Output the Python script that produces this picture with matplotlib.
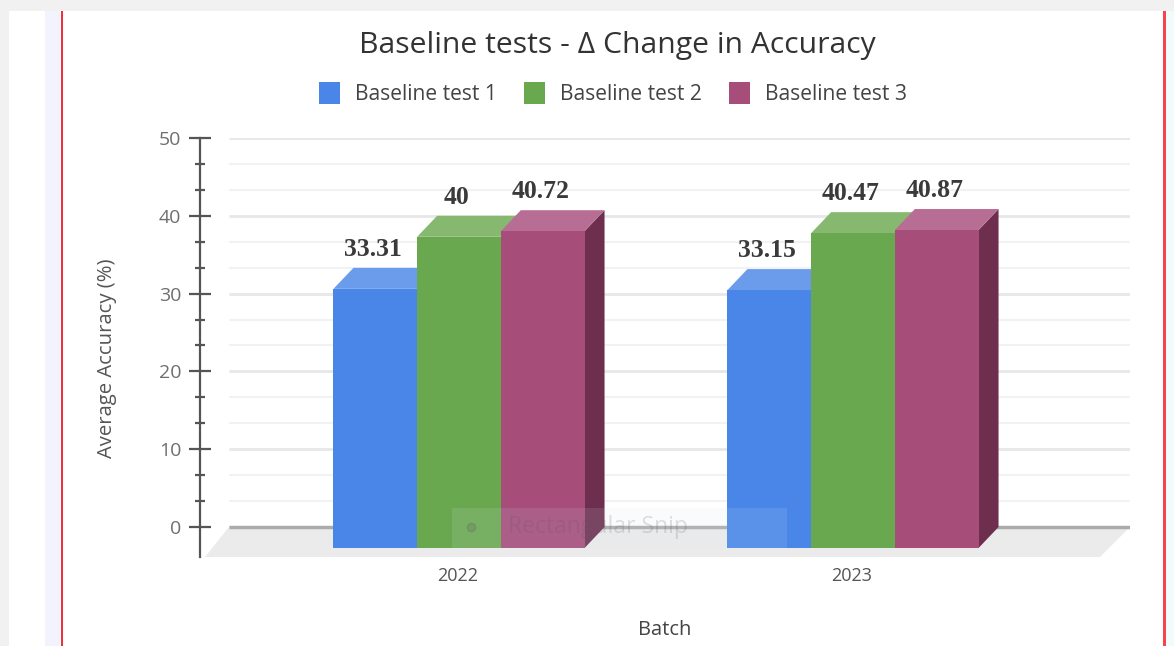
import matplotlib
matplotlib.use("Agg")
import matplotlib.pyplot as plt
from matplotlib.patches import Polygon, Rectangle

years = ["2022", "2023"]
series_names = ["Baseline test 1", "Baseline test 2", "Baseline test 3"]
test1 = [33.31, 33.15]
test2 = [40, 40.47]
test3 = [40.72, 40.87]
colors = ["#4a86e8", "#6aa84f", "#a64d79"]
top_colors = ["#6b9cec", "#86b96f", "#b86d95"]
side_colors = ["#3a69b5", "#4f7f3a", "#6e2f4f"]

W, H = 1174, 646


# pixel rectangle (top-left origin) to figure fractions
def fig_rect(x0, y0, x1, y1, color, z=-1):
    fig.add_artist(Rectangle((x0 / W, 1 - y1 / H), (x1 - x0) / W, (y1 - y0) / H,
                             transform=fig.transFigure, facecolor=color, edgecolor="none", zorder=z))


plt.rcParams["font.family"] = ["Open Sans", "DejaVu Sans"]
fig = plt.figure(figsize=(W / 100, H / 100), dpi=100, facecolor="#f1f1f1")

fig_rect(9, 11, W, H, "white", -3)
fig_rect(45, 11, 60, H, "#f3f3fd", -2)
fig_rect(60.5, 11, 62.5, H, "#f0303a", -2)
fig_rect(1163, 11, 1165.5, H, "#f8434a", -2)
fig_rect(1165.5, 11, W, H, "#f0fcfc", -2)

# axes box runs from the y axis line to the right end of the grid
px_per_unit = (527 - 138) / 50
px_per_cat = 394
ax = fig.add_axes([200 / W, 1 - 557 / H, (1130 - 200) / W, (557 - 138) / H])
ax.patch.set_alpha(0)
ax.set_ylim(-30 / px_per_unit, 50)
ax.set_xlim((200 - 458) / px_per_cat, (1130 - 458) / px_per_cat)

grid_left = (229 - 458) / px_per_cat
grid_right = (1130 - 458) / px_per_cat

# floor
depth_x = 20 / px_per_cat
depth_y = 21 / px_per_unit
ax.add_patch(Polygon([(grid_left, 0), (grid_right, 0),
                      ((1100 - 458) / px_per_cat, -30 / px_per_unit),
                      ((205 - 458) / px_per_cat, -30 / px_per_unit)],
                     facecolor="#ebebeb", edgecolor="none", zorder=1, clip_on=False))

# grid, three steps per 10
minor_vals = [i * 10 / 3 for i in range(16)]
for v in minor_vals:
    major = round(v, 3) % 10 == 0
    ax.plot([grid_left, grid_right], [v, v], color="#e7e7e7" if major else "#f2f2f2",
            lw=2 if major else 1.5, zorder=1.5, solid_capstyle="butt")
ax.plot([grid_left, grid_right], [0, 0], color="#ababab", lw=2.5, zorder=2, solid_capstyle="butt")

# 3d bars
bar_w = 83.7 / px_per_cat
nudge = 1 / px_per_cat
values = [test1, test2, test3]
for g in range(len(years)):
    for s in range(3):
        v = values[s][g]
        x0 = g + (s - 1.5) * bar_w + nudge
        x1 = x0 + bar_w
        y0 = -depth_y
        y1 = v - depth_y
        z = 3 + s
        ax.add_patch(Polygon([(x1, y0), (x1 + depth_x, 0), (x1 + depth_x, v), (x1, y1)],
                             facecolor=side_colors[s], edgecolor="none", zorder=z))
        ax.add_patch(Polygon([(x0, y1), (x0 + depth_x, v), (x1 + depth_x, v), (x1, y1)],
                             facecolor=top_colors[s], edgecolor="none", zorder=z))
        ax.bar(x0, v, width=bar_w, bottom=y0, align="edge", color=colors[s], zorder=z)
        ax.text(x0 + bar_w / 2 - 0.006, v + 0.9, str(v), family="Liberation Serif", fontsize=18.5,
                fontweight="bold", color="#3a3a3a", ha="center", va="bottom", zorder=8)

# watermark of the snipping tool
snip_l = (452 - 458) / px_per_cat
snip_r = (787 - 458) / px_per_cat
snip_t = (527 - 508) / px_per_unit
snip_b = (527 - 548) / px_per_unit
ax.add_patch(Polygon([(snip_l, snip_t), (snip_r, snip_t), (snip_r, snip_b), (snip_l, snip_b)],
                     facecolor="#d5e6f5", edgecolor="none", alpha=0.12, zorder=9))
ax.text((508 - 458) / px_per_cat, 0, "Rectangular Snip", fontsize=16.5, color="#555555", alpha=0.18,
        ha="left", va="center", zorder=10)
ax.plot([(471 - 458) / px_per_cat], [0], "o", ms=6, color="#555555", alpha=0.2, zorder=10)

# axes
for side in ["top", "right", "bottom"]:
    ax.spines[side].set_visible(False)
ax.spines["left"].set_color("#555555")
ax.spines["left"].set_linewidth(1.6)
ax.set_yticks([0, 10, 20, 30, 40, 50])
ax.set_yticks(minor_vals, minor=True)
ax.tick_params(axis="y", which="major", direction="inout", length=16, width=1.6, color="#555555",
               labelsize=14, labelcolor="#6f6f6f", pad=5.5)
ax.tick_params(axis="y", which="minor", direction="inout", length=7.5, width=1.6, color="#555555")
ax.set_xticks([0, 1])
ax.set_xticklabels(years)
ax.tick_params(axis="x", length=0, labelsize=13, labelcolor="#555555", pad=7.5)

fig.text(617 / W, 1 - 45 / H, "Baseline tests - \u0394 Change in Accuracy", fontsize=21.7, color="#333333",
         ha="center", va="center")
fig.text(665 / W, 1 - 630 / H, "Batch", fontsize=14.5, color="#444444", ha="center", va="center")
fig.text(107 / W, 1 - 358 / H, "Average Accuracy (%)", fontsize=14.6, color="#555555", rotation=90,
         ha="center", va="center")

# legend
legend_x = [319, 524, 729]
for i, name in enumerate(series_names):
    fig_rect(legend_x[i], 82, legend_x[i] + 21, 104, colors[i], 2)
    fig.text((legend_x[i] + 36) / W, 1 - 95 / H, name, fontsize=15.1, color="#444444", ha="left", va="center")

fig.savefig("out.png", dpi=100, facecolor=fig.get_facecolor())
